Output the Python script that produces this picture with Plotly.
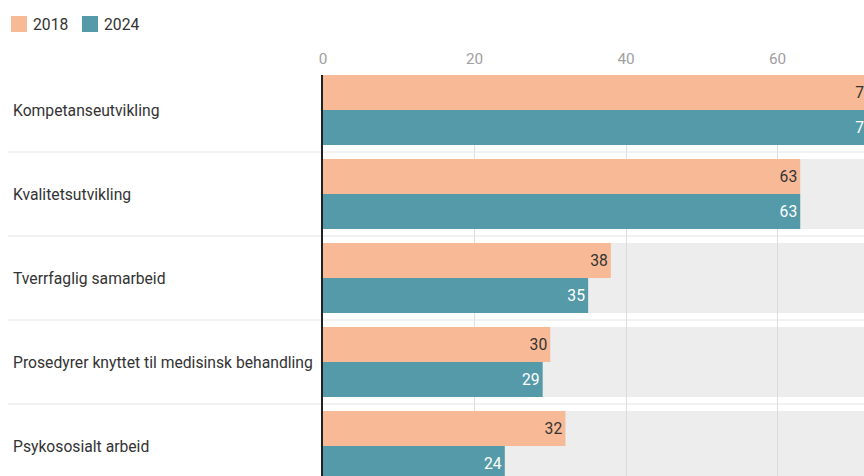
import plotly.graph_objects as go

# Survey categories (top to bottom) and share per year
categories = [
    "Kompetanseutvikling",
    "Kvalitetsutvikling",
    "Tverrfaglig samarbeid",
    "Prosedyrer knyttet til medisinsk behandling",
    "Psykososialt arbeid",
]
years = ["2018", "2024"]
values_2018 = [73, 63, 38, 30, 32]
values_2024 = [73, 63, 35, 29, 24]
scale_max = [100] * len(categories)
x_ticks = [0, 20, 40, 60, 80]

W, H = 864, 476
M_L, M_T = 323, 75
plot_w = W - M_L
plot_h = H - M_T
row_px = 84
px_per_unit = 7.575

ORANGE = "#F8BA96"
TEAL = "#559AA8"
TEXT = "#333333"
FONT = "Roboto"
FS = 15.7

half = 0.4167
y_top = -half
y_bottom = y_top + plot_h / row_px
x_max = plot_w / px_per_unit


def px_x(px):
    return (px - M_L) / plot_w


def px_y(py):
    return (H - py) / plot_h


fig = go.Figure()

# Light track behind each pair of bars
fig.add_trace(go.Bar(
    y=categories, x=scale_max, orientation="h",
    width=2 * half, offset=-half,
    marker=dict(color="rgba(212,216,212,0.45)", line=dict(width=0)),
    showlegend=False, hoverinfo="skip",
))

fig.add_trace(go.Bar(
    name=years[0], y=categories, x=values_2018, orientation="h",
    width=half, offset=-half,
    marker=dict(color=ORANGE, line=dict(width=0)),
    text=values_2018, textposition="inside", insidetextanchor="end",
    textangle=0, constraintext="none",
    insidetextfont=dict(color=TEXT, size=FS, family=FONT),
    hoverinfo="skip", showlegend=False,
))

fig.add_trace(go.Bar(
    name=years[1], y=categories, x=values_2024, orientation="h",
    width=half, offset=0,
    marker=dict(color=TEAL, line=dict(width=0)),
    text=values_2024, textposition="inside", insidetextanchor="end",
    textangle=0, constraintext="none",
    insidetextfont=dict(color="white", size=FS, family=FONT),
    hoverinfo="skip", showlegend=False,
))

# Row separators running across the label column
for i in range(len(categories) - 1):
    fig.add_shape(
        type="line", xref="paper", yref="y",
        x0=px_x(8), x1=1, y0=i + 0.5, y1=i + 0.5,
        line=dict(color="#E6E6E6", width=1), layer="below",
    )

# Left-aligned category labels
for cat in categories:
    fig.add_annotation(
        xref="paper", yref="y", x=px_x(11), y=cat,
        text=cat, showarrow=False, xanchor="left", yanchor="middle",
        font=dict(family=FONT, size=FS, color=TEXT),
    )

# Legend keys: colour square followed by the year
legend_left = [11, 82]
for left, year, color in zip(legend_left, years, [ORANGE, TEAL]):
    fig.add_shape(
        type="rect", xref="paper", yref="paper",
        x0=px_x(left), x1=px_x(left + 16), y0=px_y(32), y1=px_y(16),
        fillcolor=color, line=dict(width=0),
    )
    fig.add_annotation(
        xref="paper", yref="paper", x=px_x(left + 20), y=px_y(24),
        text=year, showarrow=False, xanchor="left", yanchor="middle",
        font=dict(family=FONT, size=FS, color=TEXT),
    )

fig.update_layout(
    width=W, height=H,
    margin=dict(l=M_L, r=0, t=M_T, b=0, pad=0),
    paper_bgcolor="white", plot_bgcolor="white",
    barmode="overlay",
    font=dict(family=FONT, size=FS, color=TEXT),
    showlegend=False,
    xaxis=dict(
        side="top", range=[0, x_max], tickvals=x_ticks,
        showgrid=True, gridcolor="#DEDEDE", gridwidth=1,
        zeroline=False, showline=False, ticks="",
        ticklabelstandoff=7,
        tickfont=dict(family=FONT, size=15.3, color="#A0A0A0"),
        fixedrange=True,
    ),
    yaxis=dict(
        type="category", categoryorder="array", categoryarray=categories,
        range=[y_bottom, y_top], showticklabels=False, ticks="",
        showgrid=False, zeroline=False,
        showline=True, linecolor="#222222", linewidth=2,
        fixedrange=True,
    ),
    hovermode=False,
)

fig.write_html("out.html", config={"displayModeBar": False})
